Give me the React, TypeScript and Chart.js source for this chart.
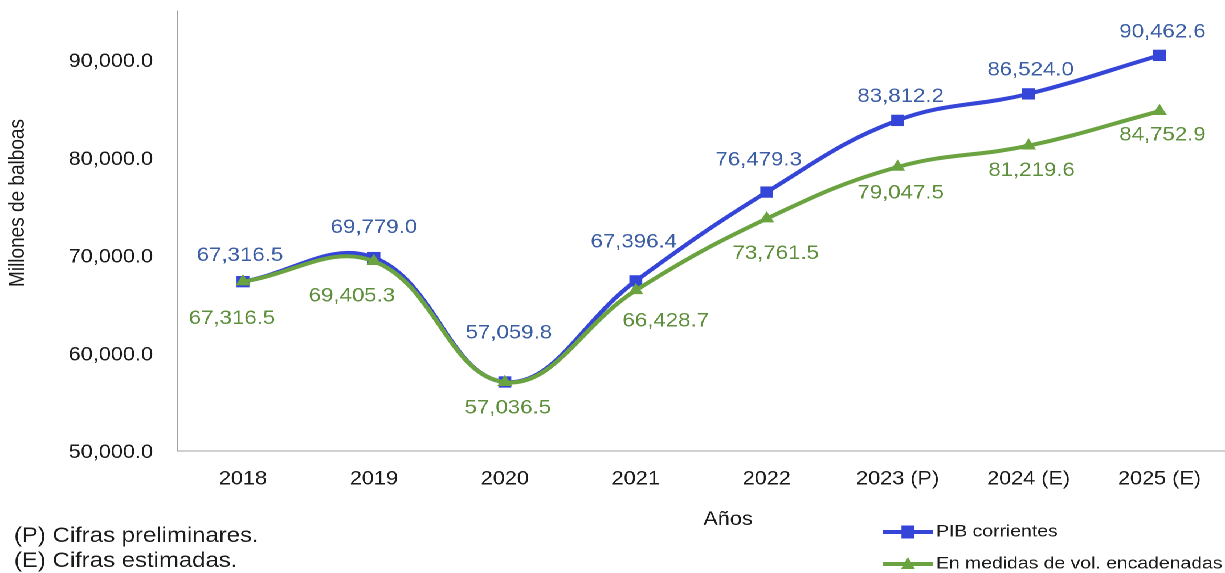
import { useEffect, useRef } from 'react';
import { Chart, registerables } from 'chart.js';

Chart.register(...registerables);

const categories = ['2018', '2019', '2020', '2021', '2022', '2023 (P)', '2024 (E)', '2025 (E)'];
const pibCorrientes = [67316.5, 69779.0, 57059.8, 67396.4, 76479.3, 83812.2, 86524.0, 90462.6];
const volEncadenadas = [67316.5, 69405.3, 57036.5, 66428.7, 73761.5, 79047.5, 81219.6, 84752.9];
const yTickValues = [50000, 60000, 70000, 80000, 90000];
const seriesNames = ['PIB corrientes', 'En medidas de vol. encadenadas'];
const footnotes = ['(P) Cifras preliminares.', '(E) Cifras estimadas.'];
const yTitle = 'Millones de balboas';
const xTitle = 'Años';

// label offsets (px, relative to point) – style only
const blueLabelDx = [-3, 0, 4, -2, -8, 3, 2, 3];
const blueLabelDy = [-26, -30, -49, -39, -32, -24, -24, -23];
const greenLabelDx = [-11, -22, 3, 30, 9, 3, 3, 3];
const greenLabelDy = [37, 35, 26, 31, 35, 26, 25, 24];

const W = 1075;
const H = 573;
const S = 1225 / W;

const BLUE = '#3545D8';
const BLUE_TXT = '#3C5EA5';
const GREEN = '#6AA33F';
const GREEN_TXT = '#5E8F3C';
const TXT = '#1a1a1a';
const FONT = '"Liberation Sans", Arial, sans-serif';

const fmt = (v: number) =>
  v.toLocaleString('en-US', { minimumFractionDigits: 1, maximumFractionDigits: 1 });

export default function App() {
  const ref = useRef<HTMLCanvasElement>(null);
  useEffect(() => {
    const overlay = {
      id: 'overlay',
      afterDatasetsDraw(chart: any) {
        const ctx = chart.ctx;
        ctx.save();
        ctx.font = `19.5px ${FONT}`;
        ctx.textAlign = 'center';
        ctx.textBaseline = 'middle';
        const metaB = chart.getDatasetMeta(0);
        const metaG = chart.getDatasetMeta(1);
        pibCorrientes.forEach((v, i) => {
          const p = metaB.data[i];
          ctx.fillStyle = BLUE_TXT;
          ctx.fillText(fmt(v), p.x + blueLabelDx[i] / S, p.y + blueLabelDy[i]);
        });
        volEncadenadas.forEach((v, i) => {
          const p = metaG.data[i];
          ctx.fillStyle = GREEN_TXT;
          ctx.fillText(fmt(v), p.x + greenLabelDx[i] / S, p.y + greenLabelDy[i]);
        });
        ctx.restore();
      },
      afterDraw(chart: any) {
        const ctx = chart.ctx;
        ctx.save();
        ctx.fillStyle = TXT;
        // y tick labels
        const ys = chart.scales.y;
        ctx.font = `19px ${FONT}`;
        ctx.textAlign = 'right';
        ctx.textBaseline = 'middle';
        yTickValues.forEach((v) => {
          ctx.fillText(fmt(v), 153 / S, ys.getPixelForValue(v) + 2);
        });
        // y title
        ctx.save();
        ctx.translate(18 / S, 203);
        ctx.rotate(-Math.PI / 2);
        ctx.font = `19px ${FONT}`;
        ctx.textAlign = 'center';
        ctx.textBaseline = 'middle';
        ctx.fillText(yTitle, 0, 0);
        ctx.restore();
        // x title
        ctx.font = `19px ${FONT}`;
        ctx.textAlign = 'center';
        ctx.textBaseline = 'middle';
        ctx.fillText(xTitle, 728 / S, 520);
        // footnotes
        ctx.font = `21px ${FONT}`;
        ctx.textAlign = 'left';
        ctx.fillText(footnotes[0], 14 / S, 536);
        ctx.fillText(footnotes[1], 14 / S, 561);
        // legend
        const items = [
          { y: 532, color: BLUE, shape: 'rect', label: seriesNames[0] },
          { y: 564, color: GREEN, shape: 'tri', label: seriesNames[1] },
        ];
        items.forEach((it) => {
          ctx.strokeStyle = it.color;
          ctx.fillStyle = it.color;
          ctx.lineWidth = 4;
          ctx.beginPath();
          ctx.moveTo(883 / S, it.y);
          ctx.lineTo(933 / S, it.y);
          ctx.stroke();
          const cx = 908 / S;
          if (it.shape === 'rect') {
            ctx.fillRect(cx - 6.5 / S, it.y - 6.5, 13 / S, 13);
          } else {
            ctx.beginPath();
            ctx.moveTo(cx, it.y - 7);
            ctx.lineTo(cx + 7 / S, it.y + 5);
            ctx.lineTo(cx - 7 / S, it.y + 5);
            ctx.closePath();
            ctx.fill();
          }
          ctx.fillStyle = TXT;
          ctx.font = `17px ${FONT}`;
          ctx.textAlign = 'left';
          ctx.textBaseline = 'middle';
          ctx.fillText(it.label, 936 / S, it.y);
        });
        ctx.restore();
      },
    };

    const chart = new Chart(ref.current as HTMLCanvasElement, {
      type: 'line',
      data: {
        labels: categories,
        datasets: [
          {
            label: seriesNames[0],
            data: pibCorrientes,
            borderColor: BLUE,
            backgroundColor: BLUE,
            borderWidth: 4,
            tension: 0.4,
            pointStyle: 'rect',
            pointRadius: 8,
            pointBorderWidth: 0,
            order: 1,
            clip: false,
          },
          {
            label: seriesNames[1],
            data: volEncadenadas,
            borderColor: GREEN,
            backgroundColor: GREEN,
            borderWidth: 4,
            tension: 0.4,
            pointStyle: 'triangle',
            pointRadius: 7.5,
            pointBorderWidth: 0,
            order: 0,
            clip: false,
          },
        ],
      },
      options: {
        animation: false,
        responsive: true,
        maintainAspectRatio: false,
        devicePixelRatio: 2,
        layout: { autoPadding: false, padding: { top: 11, right: 0, bottom: 0, left: 0 } },
        plugins: {
          legend: { display: false },
          tooltip: { enabled: false },
          title: { display: false },
        },
        scales: {
          x: {
            type: 'category',
            offset: true,
            grid: { display: false },
            border: { display: true, color: '#A0A0A0', width: 1 },
            ticks: {
              color: TXT,
              font: { family: FONT, size: 19 },
              padding: 9,
              maxRotation: 0,
              autoSkip: false,
            },
            afterFit(scale: any) {
              scale.height = H - 451;
            },
          },
          y: {
            type: 'linear',
            min: 50000,
            max: 95000,
            grid: { display: false },
            border: { display: true, color: '#A0A0A0', width: 1 },
            ticks: { display: false },
            afterFit(scale: any) {
              scale.width = 177.5 / S;
            },
          },
        },
      },
      plugins: [overlay],
    } as any);
    return () => chart.destroy();
  }, []);

  return (
    <div
      style={{
        position: 'fixed',
        left: 0,
        top: 0,
        width: W,
        height: H,
        transform: `scaleX(${S})`,
        transformOrigin: '0 0',
        background: '#fff',
      }}
    >
      <canvas ref={ref} />
    </div>
  );
}
